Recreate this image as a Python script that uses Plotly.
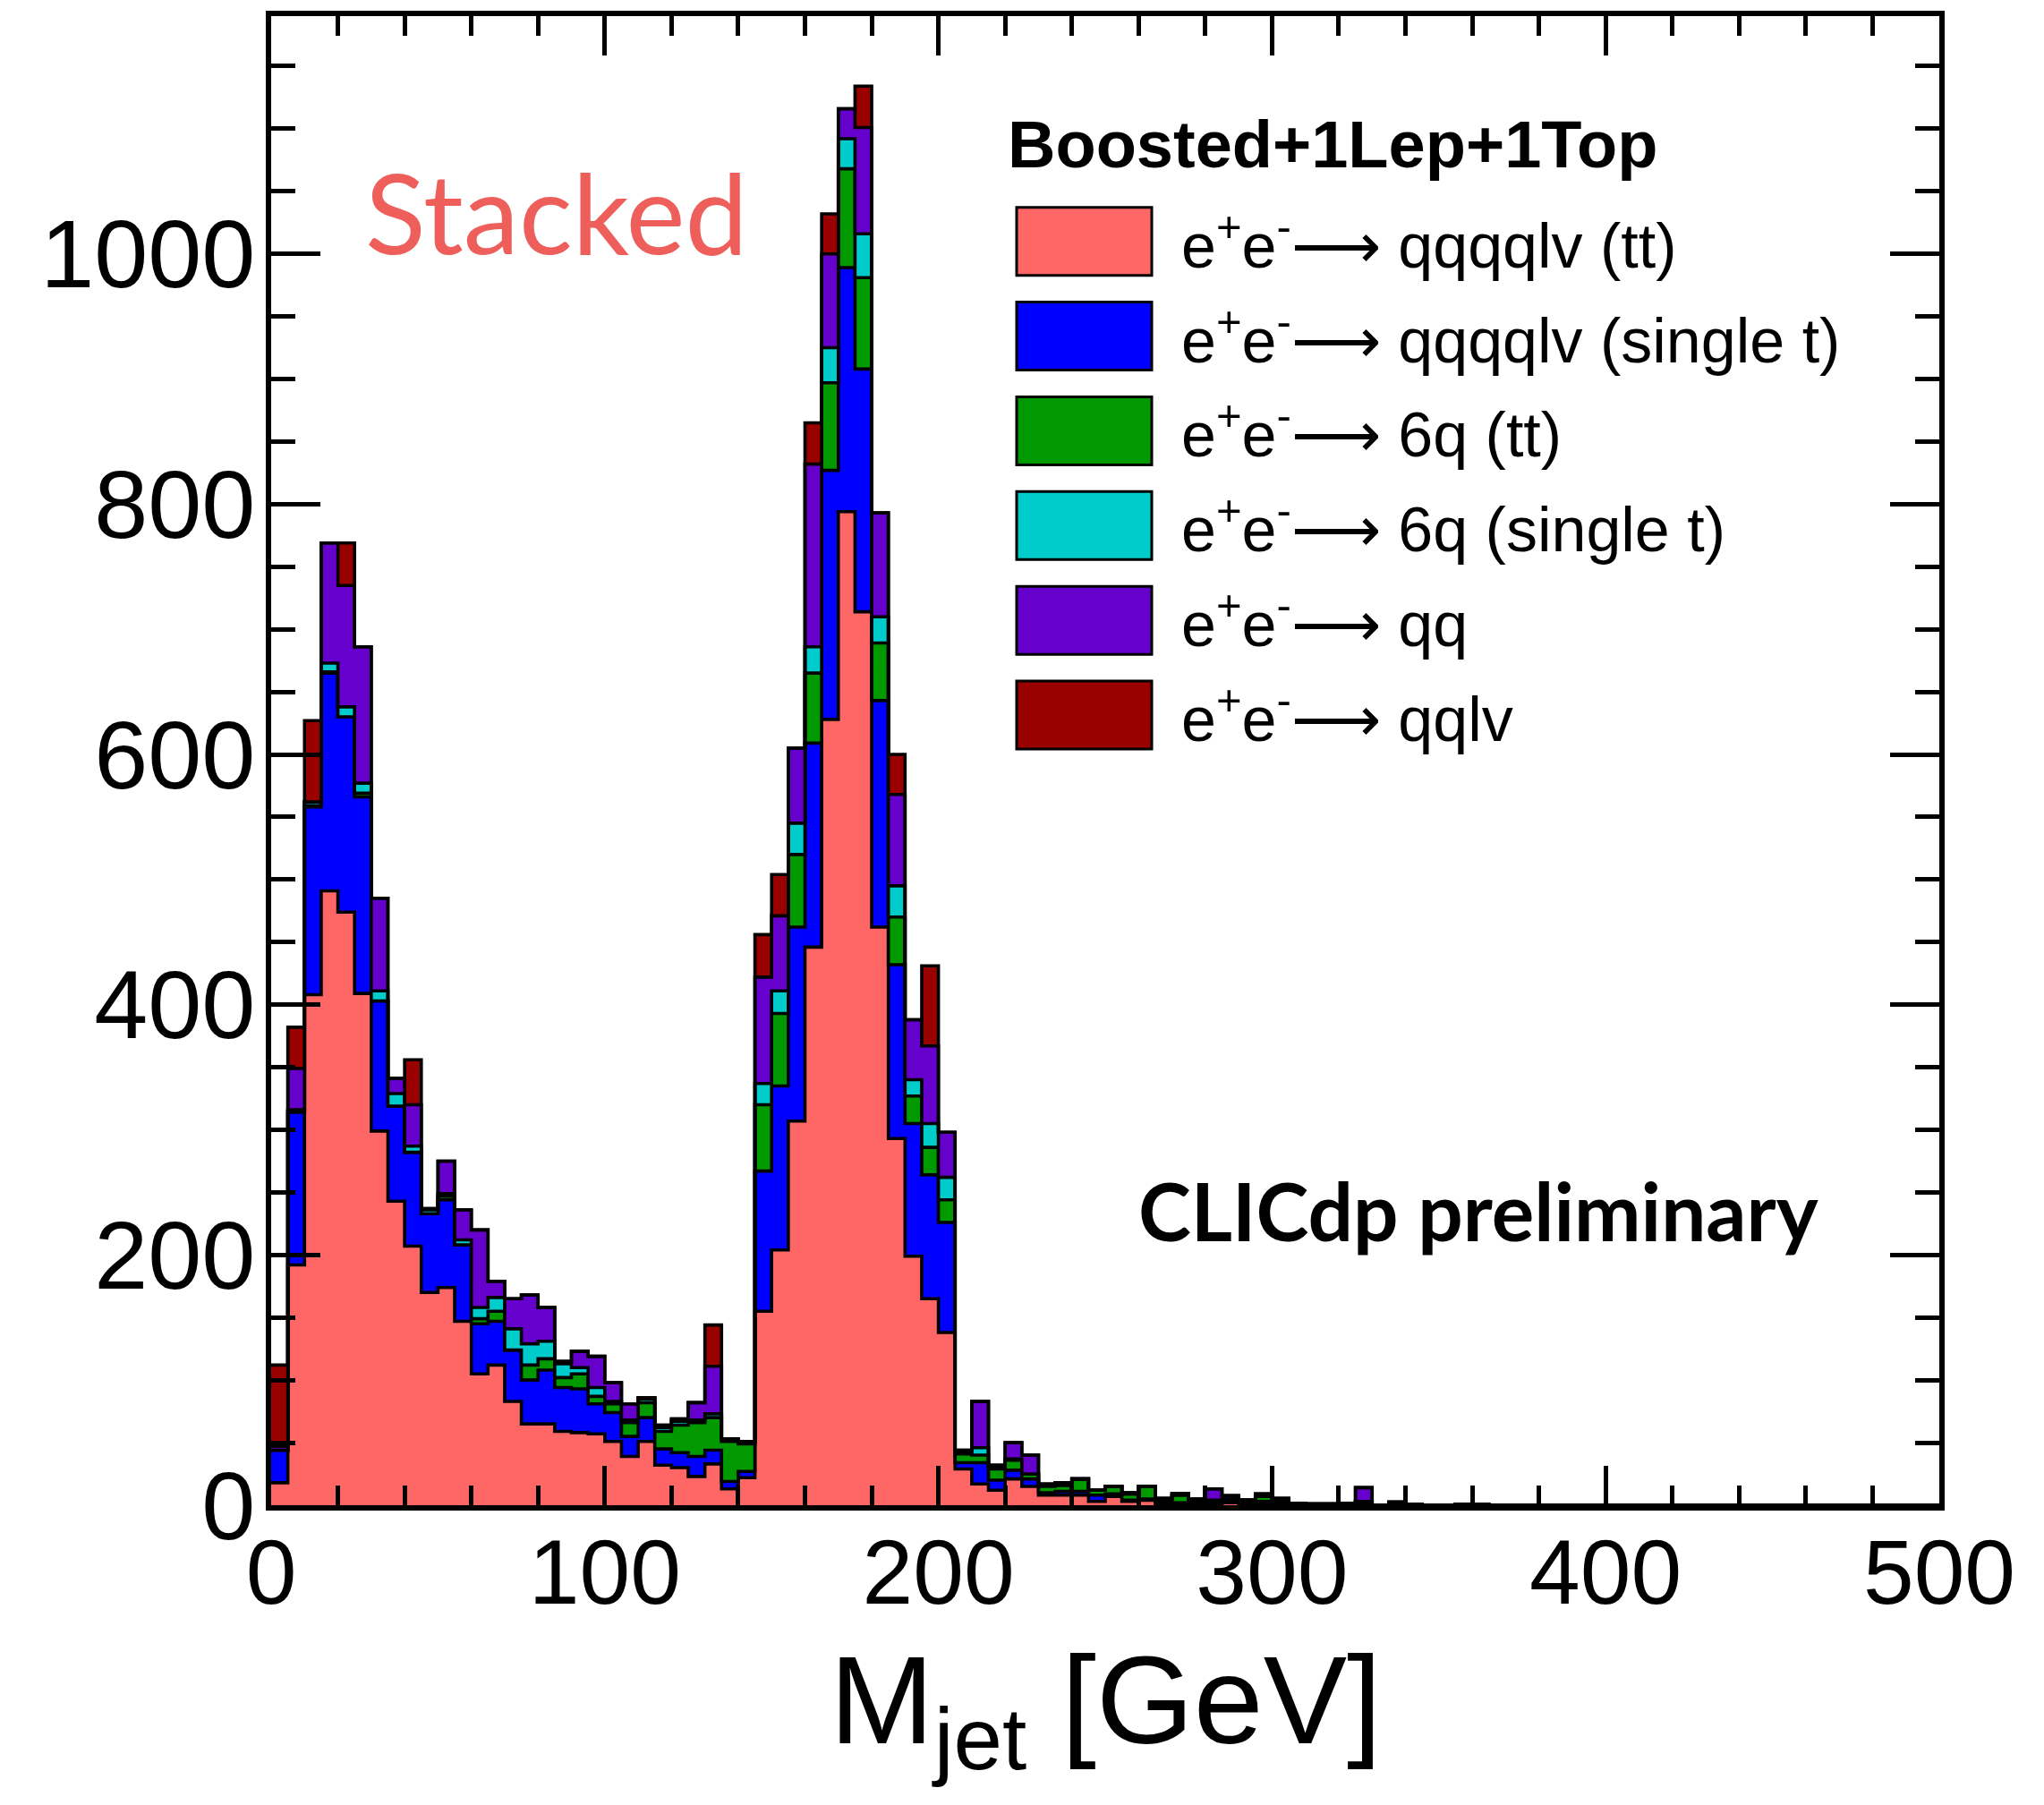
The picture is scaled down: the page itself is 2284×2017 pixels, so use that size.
import plotly.graph_objects as go

# ---------------- data (5 GeV bins from 0 to 500 GeV) ----------------
bin_width = 5
n_bins = 100
bin_edges = [i * bin_width for i in range(n_bins + 1)]

labels = [
    "e<sup>+</sup>e<sup>-</sup>\u27f6 qqqqlv (tt)",
    "e<sup>+</sup>e<sup>-</sup>\u27f6 qqqqlv (single t)",
    "e<sup>+</sup>e<sup>-</sup>\u27f6 6q (tt)",
    "e<sup>+</sup>e<sup>-</sup>\u27f6 6q (single t)",
    "e<sup>+</sup>e<sup>-</sup>\u27f6 qq",
    "e<sup>+</sup>e<sup>-</sup>\u27f6 qqlv",
]
colors = ["#FF6666", "#0000FF", "#009900", "#00CCCC", "#6600CC", "#990000"]

qqqqlv_tt = [18, 192, 408, 491, 474, 409, 299, 243, 207, 170,
             174, 147, 105, 112, 83, 65, 65, 59, 58, 57,
             51, 39, 51, 32, 30, 23, 33, 13, 22, 155,
             204, 307, 446, 628, 794, 714, 462, 293, 199, 165,
             138, 29, 17, 12, 21, 15, 8, 8, 8, 3,
             7, 3, 4, 1, 1, 1, 1, 2, 1, 1,
             1, 0.5, 0.5, 0.5, 0.5, 1, 0.2, 1, 0.3, 0.2,
             0.2, 0.5, 0.3, 0.2, 0.2]
qqqqlv_single_t = [26, 122, 150, 174, 156, 157, 104, 76, 75, 63,
                   70, 61, 40, 35, 41, 35, 43, 35, 35, 24,
                   23, 16, 19, 13, 12, 16, 11, 6, 5, 112,
                   131, 155, 163, 199, 195, 194, 181, 139, 106, 99,
                   88, 5, 17, 8, 7, 6, 2, 3, 3, 5,
                   2, 1, 1, 1, 1, 1, 1, 1, 1, 2,
                   1, 0.5, 0.3, 0.3, 0.5, 1, 0, 0.8, 0.2, 0,
                   0, 0.3, 0.2, 0, 0]
sixq_tt = [0, 1, 1, 1, 0, 3, 0, 0, 0, 0,
           3, 0, 4, 8, 0, 12, 9, 8, 12, 6,
           7, 11, 12, 14, 22, 27, 26, 32, 22, 53,
           58, 58, 56, 70, 79, 73, 46, 38, 22, 22,
           18, 7, 6, 9, 8, 4, 5, 5, 10, 4,
           6, 5, 10, 2, 6, 2, 2, 2, 1.3, 4,
           2, 0.5, 0.2, 0.2, 0.5, 1, 0, 0.6, 0, 0]
sixq_single_t = [0, 1, 3, 7, 8, 8, 8, 10, 5, 3,
                 2, 4, 9, 11, 17, 17, 14, 11, 5, 7,
                 2, 2, 3, 3, 3, 2, 3, 2, 2, 17,
                 18, 25, 21, 28, 24, 35, 21, 25, 13, 19,
                 18, 2, 6, 2, 1, 0, 1, 0, 0, 0]
qq = [3, 33, 0, 96, 97, 109, 74, 12, 33, 1,
      26, 24, 62, 13, 24, 39, 27, 2, 13, 25,
      15, 13, 1, 2, 2, 14, 38, 0, 0, 85,
      60, 60, 146, 75, 24, 85, 83, 73, 48, 62,
      36, 1, 37, 1, 13, 15, 1, 2, 0, 0,
      0, 1, 0, 1.5, 1.5, 1, 9, 2.6, 1, 2,
      1.5, 0, 0, 0, 0, 11, 0, 0, 0, 0]
qqlv = [65, 33, 65, 0, 34, 0, 0, 0, 36, 0,
        0, 0, 0, 0, 0, 0, 0, 0, 0, 0,
        0, 0, 0, 0, 0, 0, 33, 0, 0, 34,
        33, 0, 33, 32, 0, 33, 0, 32, 0, 64,
        0]

series = [qqqqlv_tt, qqqqlv_single_t, sixq_tt, sixq_single_t, qq, qqlv]

legend_title = "Boosted+1Lep+1Top"
x_title = "M<sub>jet</sub> [GeV]"
label_tag = "Stacked"
label_exp = "CLICdp preliminary"

# ---------------- figure ----------------
W, H = 2284, 2017
L, R, T, B = 303, 117, 16, 335
PW, PH = W - L - R, H - T - B


def px(xpix):
    return (xpix - L) / PW


def py(ypix):
    return (H - B - ypix) / PH


fig = go.Figure()
xs = bin_edges  # left edges + final edge
for vals, name, col in zip(series, labels, colors):
    v = list(vals) + [0] * (n_bins - len(vals))
    ys = v + [v[-1]]
    fig.add_trace(go.Scatter(
        x=xs, y=ys, name=name, mode="lines",
        line=dict(shape="hv", color="black", width=3.6),
        fillcolor=col, stackgroup="one", showlegend=False,
        hoverinfo="skip",
    ))

axis_common = dict(
    showline=True, linecolor="black", linewidth=6, mirror="allticks",
    ticks="inside", tickcolor="black", tickwidth=5,
    showgrid=False, zeroline=False,
    layer="above traces",
)

fig.update_xaxes(range=[0, 500], dtick=100, ticklen=44,
                 minor=dict(ticks="inside", dtick=20, ticklen=22, tickwidth=5, tickcolor="black"),
                 tickfont=dict(family="Liberation Sans, Arial, sans-serif", size=102, color="black"),
                 ticklabelstandoff=-18, **axis_common)
fig.update_yaxes(range=[0, 1190], dtick=200, ticklen=55,
                 minor=dict(ticks="inside", dtick=50, ticklen=27, tickwidth=5, tickcolor="black"),
                 tickfont=dict(family="Liberation Sans, Arial, sans-serif", size=108, color="black"),
                 ticklabelstandoff=-10, **axis_common)

shapes = []
annotations = []

# manual legend
box_x0, box_x1 = 1136, 1287
row_centers = [268, 374, 480, 586, 692, 798]
box_h = 76
for lab, col, yc in zip(labels, colors, row_centers):
    shapes.append(dict(type="rect", xref="paper", yref="paper",
                       x0=px(box_x0), x1=px(box_x1),
                       y0=py(yc + box_h / 2), y1=py(yc - box_h / 2),
                       fillcolor=col, line=dict(color="black", width=3), layer="above"))
    annotations.append(dict(xref="paper", yref="paper", x=px(1318), y=py(yc),
                            xanchor="left", yanchor="middle", showarrow=False, text=lab,
                            font=dict(family="Liberation Sans, Arial, sans-serif", size=70, color="black")))

annotations.append(dict(xref="paper", yref="paper", x=px(1124), y=py(160),
                        xanchor="left", yanchor="middle", showarrow=False,
                        text="<b>" + legend_title + "</b>",
                        font=dict(family="Liberation Sans, Arial, sans-serif", size=74, color="black")))

annotations.append(dict(xref="paper", yref="paper", x=px(622), y=py(234),
                        xanchor="center", yanchor="middle", showarrow=False, text=label_tag,
                        font=dict(family="Lato, sans-serif", size=125, color="#EE5F5B")))

annotations.append(dict(xref="paper", yref="paper", x=px(1652), y=py(1352),
                        xanchor="center", yanchor="middle", showarrow=False,
                        text="<b>" + label_exp + "</b>",
                        font=dict(family="Lato, sans-serif", size=89, color="black")))

annotations.append(dict(xref="paper", yref="paper", x=0.5, y=py(1910),
                        xanchor="center", yanchor="middle", showarrow=False, text=x_title,
                        font=dict(family="Liberation Sans, Arial, sans-serif", size=140, color="black")))

fig.update_layout(
    width=W, height=H,
    margin=dict(l=L, r=R, t=T, b=B, pad=0),
    paper_bgcolor="white", plot_bgcolor="white",
    shapes=shapes, annotations=annotations,
    showlegend=False,
)

fig.write_html("out.html")
